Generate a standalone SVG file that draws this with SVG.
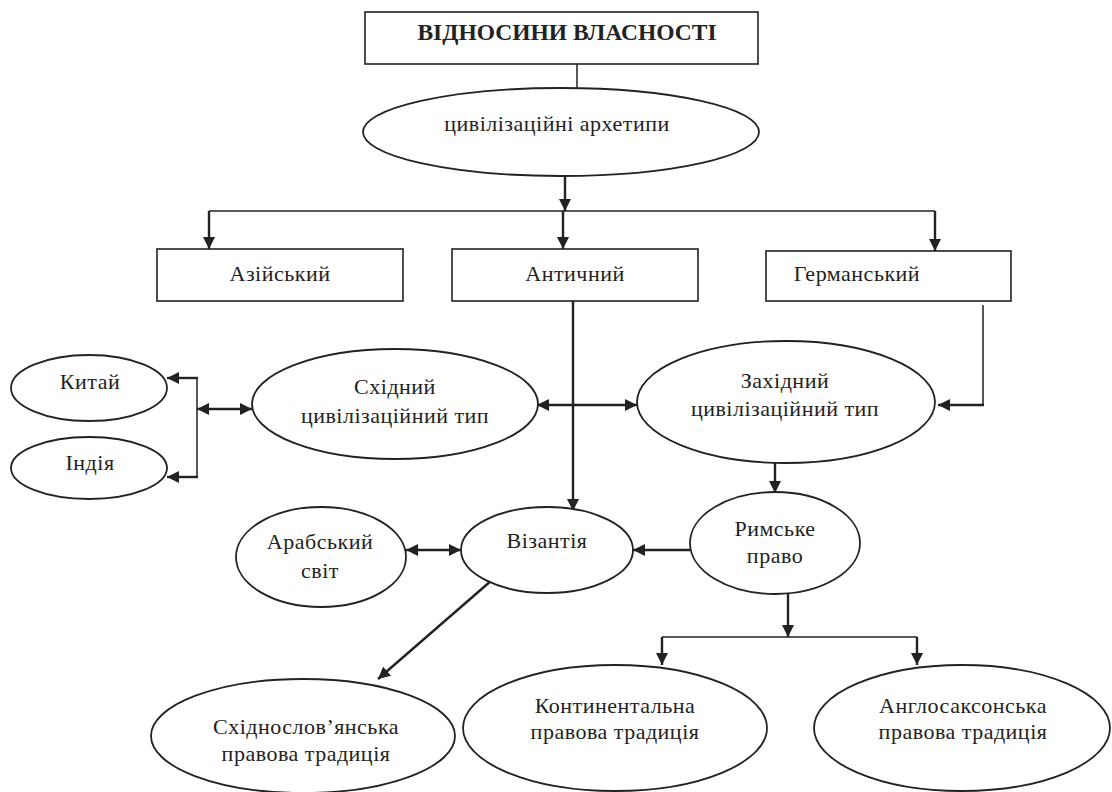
<svg xmlns="http://www.w3.org/2000/svg" width="1112" height="792" viewBox="0 0 1112 792">
<style>
  .box { fill: #fff; stroke: #222; stroke-width: 1.6; }
  .ell { fill: #fff; stroke: #222; stroke-width: 1.8; }
  .t { font-family: "Liberation Serif", "Times New Roman", serif; font-size: 22px; letter-spacing: 0.5px; fill: #222; text-anchor: middle; }
  .tb { font-family: "Liberation Serif", "Times New Roman", serif; font-size: 23.5px; font-weight: bold; fill: #222; text-anchor: middle; }
  .c { fill: none; stroke: #222; stroke-width: 2.4; }
  .cl { fill: none; stroke: #222; stroke-width: 1.5; }
  .a { marker-end: url(#ah); }
  .aa { marker-start: url(#ah); marker-end: url(#ah); }
</style>
<defs>
  <marker id="ah" viewBox="0 0 12 12" refX="12" refY="6" markerWidth="12" markerHeight="12" orient="auto-start-reverse" markerUnits="userSpaceOnUse">
    <path d="M0,0 L12,6 L0,12 z" fill="#222"/>
  </marker>
</defs>
<rect width="1112" height="792" fill="#fff"/>

<g id="connectors">
  <line class="cl" x1="577" y1="64" x2="577" y2="88"/>
  <line class="c a" x1="565" y1="176" x2="565" y2="211"/>
  <line class="cl" x1="209" y1="211" x2="935" y2="211"/>
  <line class="c a" x1="209" y1="211" x2="209" y2="249"/>
  <line class="c a" x1="563" y1="211" x2="563" y2="249"/>
  <line class="c a" x1="935" y1="211" x2="935" y2="251"/>
  <line class="c a" x1="573" y1="293" x2="573" y2="511"/>
  <polyline class="cl" points="983,305 983,405 960,405"/>
  <line class="c a" x1="984" y1="405" x2="938" y2="405"/>
  <line class="c aa" x1="537" y1="405" x2="637" y2="405"/>
  <line class="c aa" x1="197" y1="409" x2="252" y2="409"/>
  <line class="cl" x1="197" y1="378" x2="197" y2="477"/>
  <line class="c a" x1="198" y1="378" x2="167" y2="378"/>
  <line class="c a" x1="198" y1="477" x2="167" y2="477"/>
  <line class="c a" x1="775" y1="463" x2="775" y2="493"/>
  <line class="c a" x1="690" y1="550" x2="633" y2="550"/>
  <line class="c aa" x1="406" y1="550" x2="461" y2="550"/>
  <line class="c a" x1="492" y1="580" x2="378" y2="679"/>
  <line class="c a" x1="788" y1="594" x2="788" y2="637"/>
  <line class="cl" x1="662" y1="637" x2="917" y2="637"/>
  <line class="c a" x1="662" y1="637" x2="662" y2="665"/>
  <line class="c a" x1="917" y1="637" x2="917" y2="665"/>
</g>

<g id="title">
  <rect class="box" x="365" y="12" width="393" height="52"/>
  <text class="tb" x="567" y="40">ВІДНОСИНИ ВЛАСНОСТІ</text>
</g>
<g id="archetypes">
  <ellipse class="ell" cx="561" cy="132" rx="198" ry="44"/>
  <text class="t" x="557" y="131">цивілізаційні архетипи</text>
</g>
<g id="asian">
  <rect class="box" x="157" y="249" width="246" height="52"/>
  <text class="t" x="280" y="281">Азійський</text>
</g>
<g id="antique">
  <rect class="box" x="452" y="249" width="246" height="52"/>
  <text class="t" x="575" y="281">Античний</text>
</g>
<g id="german">
  <rect class="box" x="766" y="251" width="245" height="50"/>
  <text class="t" x="857" y="281">Германський</text>
</g>
<g id="china">
  <ellipse class="ell" cx="89" cy="388" rx="78" ry="33"/>
  <text class="t" x="90" y="389">Китай</text>
</g>
<g id="india">
  <ellipse class="ell" cx="89" cy="468" rx="78" ry="31"/>
  <text class="t" x="90" y="470">Індія</text>
</g>
<g id="eastern">
  <ellipse class="ell" cx="395" cy="404" rx="143" ry="55"/>
  <text class="t" x="395" y="394">Східний</text>
  <text class="t" x="395" y="423">цивілізаційний тип</text>
</g>
<g id="western">
  <ellipse class="ell" cx="786" cy="402" rx="149" ry="61"/>
  <text class="t" x="785" y="388">Західний</text>
  <text class="t" x="785" y="416">цивілізаційний тип</text>
</g>
<g id="arab">
  <ellipse class="ell" cx="321" cy="557" rx="85" ry="50"/>
  <text class="t" x="320" y="549">Арабський</text>
  <text class="t" x="320" y="578">світ</text>
</g>
<g id="byzantium">
  <ellipse class="ell" cx="547" cy="550" rx="86" ry="43"/>
  <text class="t" x="547" y="548">Візантія</text>
</g>
<g id="roman">
  <ellipse class="ell" cx="775" cy="543" rx="85" ry="51"/>
  <text class="t" x="775" y="536">Римське</text>
  <text class="t" x="775" y="563">право</text>
</g>
<g id="eastslavic">
  <ellipse class="ell" cx="303" cy="736" rx="152" ry="57"/>
  <text class="t" x="306" y="734">Східнослов’янська</text>
  <text class="t" x="306" y="761">правова традиція</text>
</g>
<g id="continental">
  <ellipse class="ell" cx="615" cy="728" rx="152" ry="63"/>
  <text class="t" x="615" y="713">Континентальна</text>
  <text class="t" x="615" y="739">правова традиція</text>
</g>
<g id="anglosaxon">
  <ellipse class="ell" cx="962" cy="728" rx="148" ry="63"/>
  <text class="t" x="963" y="713">Англосаксонська</text>
  <text class="t" x="963" y="739">правова традиція</text>
</g>
</svg>
